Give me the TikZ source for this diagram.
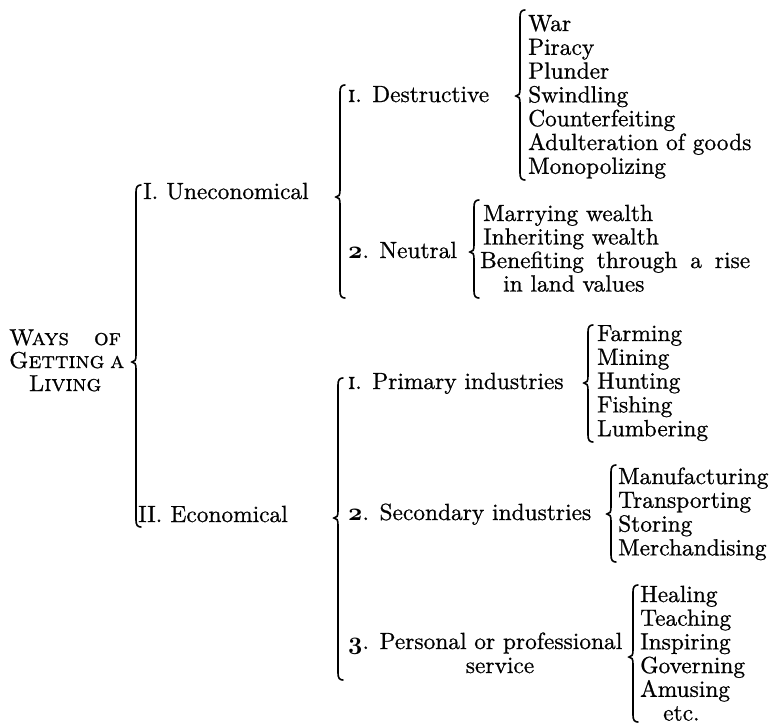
\documentclass[tikz,border=0pt]{standalone}
\font\rmheavy="[lmroman10-regular.otf]:embolden=0.8" at 23.4pt
\font\scheavy="[lmromancaps10-regular.otf]:embolden=0.8" at 23pt
\font\numheavy="[lmromancaps10-regular.otf]:embolden=1.2" at 23.4pt
\newcommand\osnum[1]{{\usefont{OML}{cmm}{b}{it}#1}}
\tikzset{
  txt/.style={anchor=base west, inner sep=0pt, font=\fontsize{23.4}{24}\selectfont\rmheavy, text=black},
  ctxt/.style={txt, anchor=base},
  sctxt/.style={ctxt, font=\fontsize{23}{24}\selectfont\scheavy},
  bracestyle/.style={line width=1.6pt, line cap=round, draw=black},
}
\newcommand\mybrace[4]{%
  \draw[bracestyle] (#1+5,#2) .. controls (#1+1.5,#2) and (#1,#2+2) .. (#1,#2+7)
    -- (#1,#3-7) .. controls (#1,#3-2) and (#1-1,#3) .. (#1-4,#3)
    .. controls (#1-1,#3) and (#1,#3+2) .. (#1,#3+7)
    -- (#1,#4-7) .. controls (#1,#4-2) and (#1+1.5,#4) .. (#1+5,#4);}
\begin{document}
\begin{tikzpicture}[x=1pt,y=-1pt]
\useasboundingbox (0,0) rectangle (772,724);
% root label
\node[sctxt] (w1) at (65,345) {\makebox[112pt][s]{Ways of}};
\node[sctxt] (w2) at (65,368) {\makebox[112pt][s]{Getting a}};
\node[sctxt] (w3) at (65,391) {Living};
% level 1
\node[txt] (L1a) at (143,199) {I.\hspace{0.35em}Uneconomical};
\node[txt] (L1b) at (138,522) {II.\hspace{0.35em}Economical};
% level 2
\node[txt] (a1) at (348,102) {{\numheavy i}.\hspace{0.45em}Destructive};
\node[txt] (a2) at (348,258) {\osnum{2}.\hspace{0.45em}Neutral};
\node[txt] (b1) at (348,389) {{\numheavy i}.\hspace{0.45em}Primary industries};
\node[txt] (b2) at (348,520) {\osnum{2}.\hspace{0.45em}Secondary industries};
\node[txt] (b3) at (348,649) {\osnum{3}.\hspace{0.45em}Personal or professional};
\node[ctxt] (b3s) at (500,673) {service};
% level 3 lists
\foreach \t [count=\i] in {War,Piracy,Plunder,Swindling,Counterfeiting,Adulteration of goods,Monopolizing}
  \node[txt] (d\i) at (528,{31+23.8*(\i-1)}) {\t};
\node[txt] (n1) at (483,221) {Marrying wealth};
\node[txt] (n2) at (483,244.5) {Inheriting wealth};
\node[txt] (n3) at (480,268) {\makebox[270pt][s]{Benefiting through a rise}};
\node[txt] (n4) at (503,291.5) {in land values};
\foreach \t [count=\i] in {Farming,Mining,Hunting,Fishing,Lumbering}
  \node[txt] (p\i) at (597,{341+23.8*(\i-1)}) {\t};
\foreach \t [count=\i] in {Manufacturing,Transporting,Storing,Merchandising}
  \node[txt] (s\i) at (618,{484+23.8*(\i-1)}) {\t};
\foreach \t [count=\i] in {Healing,Teaching,Inspiring,Governing,Amusing}
  \node[txt] (h\i) at (640,{602+23.7*(\i-1)}) {\t};
\node[txt] (h6) at (663,720.5) {etc.};
% braces
\mybrace{136}{185}{362}{527}
\mybrace{340}{85}{197}{298}
\mybrace{338}{378}{518}{680}
\mybrace{520}{10}{96}{180}
\mybrace{474}{200}{252}{298}
\mybrace{588}{325}{383}{442}
\mybrace{611}{465}{514}{562}
\mybrace{633}{585}{657}{722}
\end{tikzpicture}
\end{document}
